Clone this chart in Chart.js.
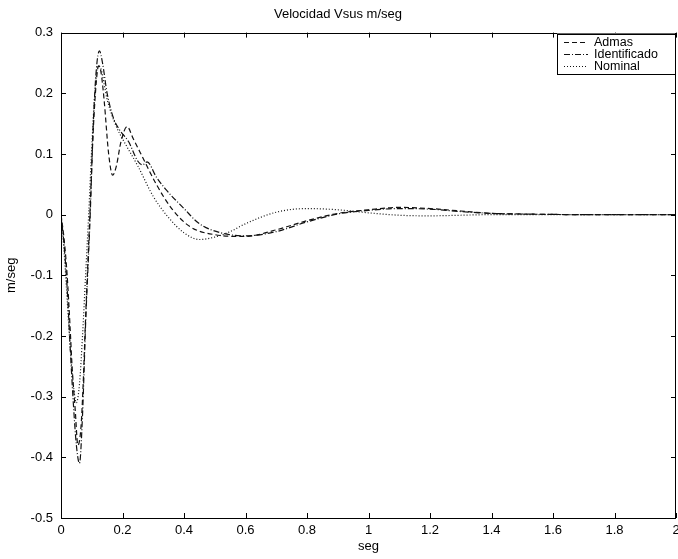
<!DOCTYPE html>
<html>
<head>
<meta charset="utf-8">
<script src="https://cdn.jsdelivr.net/npm/chart.js@4.4.1/dist/chart.umd.min.js"></script>
<style>
html,body{margin:0;padding:0;background:#fff;}
#wrap{width:678px;height:559px;position:relative;}
</style>
</head>
<body>
<div id="wrap"><canvas id="c" width="678" height="559"></canvas></div>
<script>
// ---- data ----
const titleText = "Velocidad Vsus m/seg";
const xLabel = "seg";
const yLabel = "m/seg";
const seriesNames = ["Admas", "Identificado", "Nominal"];

const tAdmas = [0,0.01,0.02,0.03,0.036,0.046,0.055,0.065,0.072,0.08,0.094,0.105,0.115,0.122,0.13,0.14,0.155,0.168,0.18,0.195,0.215,0.235,0.26,0.31,0.36,0.42,0.5,0.6,0.7,0.8,0.9,1.0,1.1,1.2,1.3,1.4,1.5,1.7,2.0];
const vAdmas = [0,-0.04,-0.10,-0.19,-0.25,-0.32,-0.38,-0.35,-0.28,-0.17,0.0,0.14,0.22,0.245,0.235,0.19,0.10,0.065,0.08,0.12,0.145,0.125,0.10,0.05,0.01,-0.02,-0.033,-0.036,-0.025,-0.01,0.002,0.008,0.012,0.01,0.006,0.002,0.001,0,0];

const tIdent = [0,0.01,0.02,0.03,0.04,0.05,0.06,0.07,0.08,0.095,0.105,0.115,0.125,0.135,0.15,0.17,0.19,0.22,0.25,0.265,0.28,0.31,0.34,0.40,0.45,0.52,0.6,0.7,0.8,0.9,1.0,1.1,1.2,1.3,1.4,1.5,1.7,2.0];
const vIdent = [0,-0.05,-0.12,-0.22,-0.31,-0.38,-0.41,-0.33,-0.18,0.0,0.15,0.24,0.27,0.25,0.20,0.16,0.14,0.12,0.088,0.082,0.087,0.062,0.042,0.01,-0.015,-0.03,-0.035,-0.028,-0.012,0.001,0.007,0.01,0.009,0.005,0.002,0.001,0,0];

const tNom = [0,0.01,0.02,0.03,0.04,0.05,0.06,0.07,0.08,0.09,0.10,0.11,0.12,0.13,0.15,0.18,0.20,0.25,0.30,0.35,0.40,0.45,0.50,0.55,0.60,0.70,0.80,0.90,1.00,1.10,1.20,1.30,1.40,1.6,2.0];
const vNom = [0,-0.06,-0.14,-0.22,-0.28,-0.31,-0.28,-0.20,-0.10,0.0,0.11,0.20,0.245,0.24,0.19,0.145,0.125,0.08,0.03,-0.005,-0.03,-0.041,-0.037,-0.028,-0.015,0.004,0.01,0.008,0.003,-0.001,-0.002,-0.001,0,0,0];

const xTicks = [0,0.2,0.4,0.6,0.8,1,1.2,1.4,1.6,1.8,2];
const yTicks = [-0.5,-0.4,-0.3,-0.2,-0.1,0,0.1,0.2,0.3];

// ---- chart ----
const toPts = (t, v) => t.map((x, i) => ({x: x, y: v[i]}));
const lineColor = "#111";
const dashes = [[5,3],[6,2,1,2],[1,2]];

const FONT = "'Liberation Sans', Arial, Helvetica, sans-serif";
const FS = 13;

const boxPlugin = {
  id: 'matlabBox',
  afterDraw(chart) {
    const ctx = chart.ctx;
    const a = chart.chartArea;
    const xs = chart.scales.x, ys = chart.scales.y;
    ctx.save();
    ctx.strokeStyle = "#000";
    ctx.lineWidth = 1;
    ctx.setLineDash([]);
    ctx.strokeRect(Math.round(a.left)+0.5, Math.round(a.top)+0.5, Math.round(a.right-a.left)-1, Math.round(a.bottom-a.top));
    const tl = 5;
    ctx.beginPath();
    xs.ticks.forEach(tk => {
      const px = Math.round(xs.getPixelForValue(tk.value)) + 0.5;
      ctx.moveTo(px, a.bottom); ctx.lineTo(px, a.bottom - tl);
      ctx.moveTo(px, a.top); ctx.lineTo(px, a.top + tl);
    });
    ys.ticks.forEach(tk => {
      const py = Math.round(ys.getPixelForValue(tk.value)) + 0.5;
      ctx.moveTo(a.left, py); ctx.lineTo(a.left + tl, py);
      ctx.moveTo(a.right, py); ctx.lineTo(a.right - tl, py);
    });
    ctx.stroke();

    // legend box (inside the plot, top right)
    const lx0 = a.right - 119, ly0 = a.top + 1, lw = 118, lh = 40;
    ctx.fillStyle = "#fff";
    ctx.fillRect(lx0, ly0, lw, lh);
    ctx.strokeRect(Math.round(lx0)+0.5, Math.round(ly0)+0.5, lw, lh);
    ctx.font = "12.5px " + FONT;
    ctx.textBaseline = "middle";
    ctx.textAlign = "left";
    seriesNames.forEach((name, i) => {
      const y = Math.round(ly0 + 8 + i * 12) + 0.5;
      ctx.strokeStyle = lineColor;
      ctx.setLineDash(dashes[i]);
      ctx.beginPath();
      ctx.moveTo(lx0 + 7, y); ctx.lineTo(lx0 + 31, y);
      ctx.stroke();
      ctx.setLineDash([]);
      ctx.fillStyle = "#000";
      ctx.fillText(name, lx0 + 37, y);
    });
    ctx.restore();
  }
};

new Chart(document.getElementById('c'), {
  type: 'line',
  data: {
    datasets: [
      {label: seriesNames[0], data: toPts(tAdmas, vAdmas), borderDash: dashes[0]},
      {label: seriesNames[1], data: toPts(tIdent, vIdent), borderDash: dashes[1]},
      {label: seriesNames[2], data: toPts(tNom, vNom), borderDash: dashes[2]}
    ].map(d => Object.assign(d, {
      borderColor: lineColor, borderWidth: 1.2, pointRadius: 0, fill: false,
      cubicInterpolationMode: 'monotone'
    }))
  },
  options: {
    responsive: false,
    animation: false,
    layout: {padding: {left: 0, right: 2, top: 0, bottom: 0}},
    plugins: {
      legend: {display: false},
      tooltip: {enabled: false},
      title: {
        display: true, text: titleText, color: "#000",
        font: {family: FONT, size: FS, weight: 'normal'},
        padding: {top: 7, bottom: 10}
      }
    },
    scales: {
      x: {
        type: 'linear', min: 0, max: 2,
        afterBuildTicks: s => { s.ticks = xTicks.map(v => ({value: v})); },
        afterFit: s => { s.height = 41; s.paddingRight = 0; s.paddingLeft = 0; },
        grid: {display: false, drawTicks: false},
        border: {display: false},
        ticks: {color: "#000", font: {family: FONT, size: FS}, padding: 5,
                maxRotation: 0, autoSkip: false,
                callback: v => String(Number(v.toFixed(1)))},
        title: {display: true, text: xLabel, color: "#000",
                font: {family: FONT, size: FS}, padding: {top: 0, bottom: 5}}
      },
      y: {
        type: 'linear', min: -0.5, max: 0.3,
        afterBuildTicks: s => { s.ticks = yTicks.map(v => ({value: v})); },
        afterFit: s => { s.width = 61; },
        grid: {display: false, drawTicks: false},
        border: {display: false},
        ticks: {color: "#000", font: {family: FONT, size: FS}, padding: 8,
                autoSkip: false,
                callback: v => String(Number(v.toFixed(1)))},
        title: {display: true, text: yLabel, color: "#000",
                font: {family: FONT, size: FS}, padding: {top: 4, bottom: 4}}
      }
    }
  },
  plugins: [boxPlugin]
});
</script>
</body>
</html>
